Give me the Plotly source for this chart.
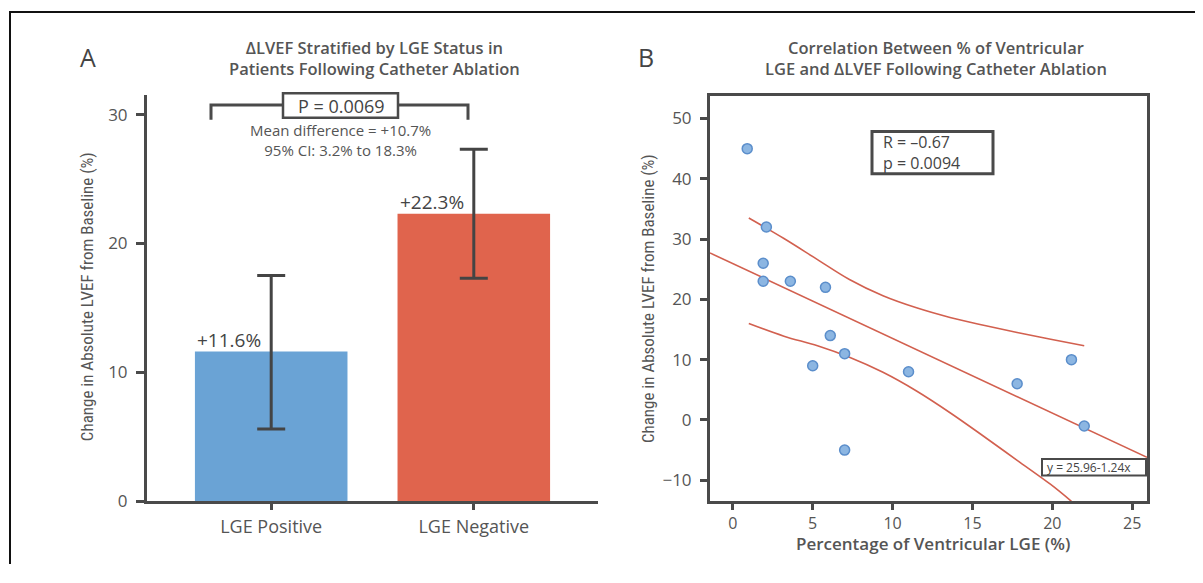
import plotly.graph_objects as go

# ---------------- data ----------------
# Panel A
categories = ["LGE Positive", "LGE Negative"]
mean_change = [11.6, 22.3]
err_plus = [5.9, 5.0]
err_minus = [6.0, 5.0]
bar_colors = ["#6aa3d5", "#e0644d"]
a_yticks = [0, 10, 20, 30]

# Panel B
lge_pct = [0.9, 2.1, 1.9, 1.9, 3.6, 5.8, 6.1, 7.0, 5.0, 7.0, 11.0, 17.8, 21.2, 22.0]
delta_lvef = [45, 32, 26, 23, 23, 22, 14, 11, 9, -5, 8, 6, 10, -1]
reg_x = [-1.43, 25.93]
reg_y = [27.7, -6.2]
upper_x = [1.0, 3.2, 5.3, 7.3, 9.4, 11.5, 13.6, 15.7, 17.8, 19.9, 22.0]
upper_y = [33.5, 30.1, 26.6, 23.3, 20.6, 18.6, 17.0, 15.7, 14.5, 13.4, 12.3]
lower_x = [1.0, 3.2, 5.3, 7.3, 9.4, 11.5, 13.6, 15.7, 17.8, 19.9, 21.2]
lower_y = [16.0, 13.9, 12.3, 10.4, 7.9, 4.8, 1.2, -2.7, -6.7, -10.7, -13.5]
b_xticks = [0, 5, 10, 15, 20, 25]
b_yticks = [-10, 0, 10, 20, 30, 40, 50]

# ---------------- style ----------------
OFF = 8                 # default page margin of the html body
W, H = 1203 - 2 * OFF, 556
FONT = "Open Sans, Noto Sans, sans-serif"
NARROW = "Liberation Sans Narrow, Arial Narrow, Roboto Condensed, Roboto, sans-serif"
TXT = "#555555"
DARK = "#444444"
AX = "#4a4a4a"
RED_LINE = "#d2604f"


def px(x):
    return (x - OFF) / W


def py(y):
    return 1 - (y - OFF) / H


fig = go.Figure()

# Panel A bars
fig.add_trace(go.Bar(
    x=categories, y=mean_change, width=0.753,
    marker=dict(color=bar_colors, line=dict(width=0)),
    error_y=dict(type="data", array=err_plus, arrayminus=err_minus, symmetric=False,
                 color=DARK, thickness=3, width=14),
    xaxis="x", yaxis="y", showlegend=False, hoverinfo="skip",
))

# Panel B: regression and confidence band
fig.add_trace(go.Scatter(x=reg_x, y=reg_y, mode="lines", line=dict(color=RED_LINE, width=1.6),
                         xaxis="x2", yaxis="y2", showlegend=False, hoverinfo="skip"))
fig.add_trace(go.Scatter(x=upper_x, y=upper_y, mode="lines", line=dict(color=RED_LINE, width=1.6, shape="spline"),
                         xaxis="x2", yaxis="y2", showlegend=False, hoverinfo="skip"))
fig.add_trace(go.Scatter(x=lower_x, y=lower_y, mode="lines", line=dict(color=RED_LINE, width=1.6, shape="spline"),
                         xaxis="x2", yaxis="y2", showlegend=False, hoverinfo="skip"))
fig.add_trace(go.Scatter(x=lge_pct, y=delta_lvef, mode="markers",
                         marker=dict(size=10, color="#8cb6e2", line=dict(color="#5b8ecb", width=1.5)),
                         xaxis="x2", yaxis="y2", showlegend=False, cliponaxis=False))

tickfont = dict(family=FONT, size=17, color=TXT)

fig.update_layout(
    width=W, height=H,
    margin=dict(l=0, r=0, t=0, b=0),
    paper_bgcolor="white", plot_bgcolor="white",
    font=dict(family=FONT, color=TXT),
    xaxis=dict(domain=[px(147), px(598)], range=[-0.613, 1.613], type="category",
               showline=True, linewidth=3, linecolor=AX, showgrid=False, zeroline=False,
               ticks="outside", ticklen=6, tickwidth=2.5, tickcolor=AX,
               tickfont=dict(family=FONT, size=18, color=TXT), ticklabelstandoff=1,
               anchor="y", fixedrange=True),
    yaxis=dict(domain=[py(511), py(97)], range=[0, 31.5],
               showline=True, linewidth=3, linecolor=AX, showgrid=False, zeroline=False,
               tickvals=a_yticks, ticks="outside", ticklen=8, tickwidth=2.5, tickcolor=AX,
               tickfont=tickfont, ticklabelstandoff=5, anchor="x"),
    xaxis2=dict(domain=[px(710), px(1147)], range=[-1.43, 25.93],
                showline=True, mirror=True, linewidth=3, linecolor=AX, showgrid=False, zeroline=False,
                tickvals=b_xticks, ticks="outside", ticklen=6, tickwidth=2.5, tickcolor=AX,
                tickfont=dict(family=FONT, size=16, color=TXT), ticklabelstandoff=0, anchor="y2"),
    yaxis2=dict(domain=[py(511), py(98)], range=[-13.45, 53.7],
                showline=True, mirror=True, linewidth=3, linecolor=AX, showgrid=False, zeroline=False,
                tickvals=b_yticks, ticks="outside", ticklen=7, tickwidth=2.5, tickcolor=AX,
                tickfont=tickfont, ticklabelstandoff=5, anchor="x2"),
)

shapes = []
# outer frame (left and top edges)
shapes.append(dict(type="path", xref="paper", yref="paper",
                   path=f"M {px(10)},{py(600)} L {px(10)},{py(12)} L {px(1210)},{py(12)}",
                   line=dict(color="#111111", width=2)))
# significance bracket
shapes.append(dict(type="path", xref="paper", yref="paper",
                   path=f"M {px(211)},{py(122)} L {px(211)},{py(107)} L {px(468)},{py(107)} L {px(468)},{py(122)}",
                   line=dict(color=AX, width=3)))
# P box
shapes.append(dict(type="rect", xref="paper", yref="paper",
                   x0=px(283), x1=px(398), y0=py(120), y1=py(95),
                   line=dict(color=AX, width=2.5), fillcolor="white"))
# R / p box
shapes.append(dict(type="rect", xref="paper", yref="paper",
                   x0=px(872), x1=px(993), y0=py(177), y1=py(134),
                   line=dict(color=AX, width=3), fillcolor="white"))
# equation box
shapes.append(dict(type="rect", xref="paper", yref="paper",
                   x0=px(1042), x1=px(1146), y0=py(485), y1=py(468),
                   line=dict(color=AX, width=2), fillcolor="white"))
fig.update_layout(shapes=shapes)


def note(text, x, y, size, color=TXT, xanchor="center", weight=None, family=FONT, angle=0, align="center"):
    f = dict(family=family, size=size, color=color)
    if weight:
        f["weight"] = weight
    return dict(text=text, x=px(x), y=py(y), xref="paper", yref="paper", showarrow=False,
                xanchor=xanchor, yanchor="middle", textangle=angle, font=f, align=align)


ann = []
ann.append(note("A", 88, 58, 25, DARK))
ann.append(note("B", 646, 58, 25, DARK))
ann.append(note("ΔLVEF Stratified by LGE Status in<br>Patients Following Catheter Ablation",
                374, 59, 16.5, weight=600))
ann.append(note("Correlation Between % of Ventricular<br>LGE and ΔLVEF Following Catheter Ablation",
                936, 59, 16.5, weight=600))
ytitle = "Change in Absolute LVEF from Baseline (%)"
ann.append(note(ytitle, 87, 303, 17, family=NARROW, angle=-90))
ann.append(note(ytitle, 648, 305, 17, family=NARROW, angle=-90))
ann.append(note("Percentage of Ventricular LGE (%)", 933, 554, 17, weight=600))
ann.append(note("P = 0.0069", 341, 108, 18, DARK))
ann.append(note("Mean difference = +10.7%<br>95% CI: 3.2% to 18.3%", 340, 142.5, 15))
ann.append(note("R = –0.67<br>p = 0.0094", 881, 155.5, 16, DARK, xanchor="left", align="left"))
ann.append(note("y = 25.96-1.24x", 1045, 476.5, 12, DARK, xanchor="left"))
# bar value labels
for i, (c, v) in enumerate(zip(categories, mean_change)):
    ann.append(dict(text=f"+{v}%", x=i - 0.376, y=v, xref="x", yref="y", xanchor="left", yanchor="bottom",
                    yshift=-3, showarrow=False, font=dict(family=FONT, size=19, color=DARK)))
fig.update_layout(annotations=ann)

fig.write_html("out.html")
